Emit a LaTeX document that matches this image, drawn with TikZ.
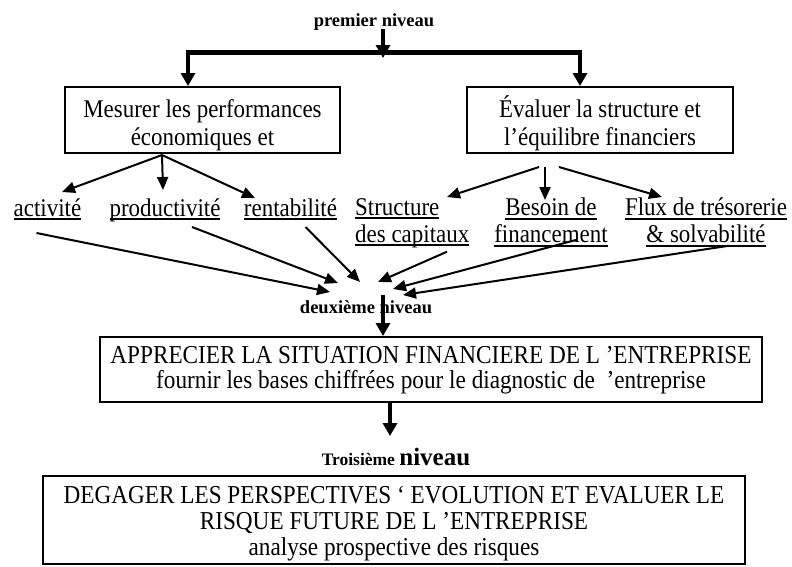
\documentclass[tikz,border=0pt]{standalone}
\usepackage{fontspec}
\setmainfont{Liberation Serif}[FakeStretch=0.9]
\newfontfamily\lblfont{Liberation Serif}
\usetikzlibrary{arrows.meta}
\newcommand\myul[1]{\setbox0\hbox{#1}\rlap{\rule[-3.6pt]{\wd0}{1.3pt}}\box0}
\begin{document}
\begin{tikzpicture}[x=1pt,y=-1pt,
  box/.style={draw, line width=2pt, inner sep=0pt, align=center},
  thinarr/.style={line width=2pt, -{Triangle[length=13pt,width=11pt]}},
  thickarr/.style={line width=4.5pt, -{Triangle[length=13pt,width=14pt]}},
  lbl/.style={font=\lblfont\fontsize{18.5}{20}\selectfont\bfseries, inner sep=0pt, anchor=base},
  sub/.style={font=\fontsize{25.5}{27}\selectfont, inner sep=0pt, anchor=base}]
\useasboundingbox (0,0) rectangle (792,566);
% level 1
\node[lbl] (prem) at (374,26) {premier niveau};
\coordinate (barL) at (188,52.5);
\coordinate (barR) at (580,52.5);
\coordinate (barM) at (383,58);
\draw[line width=5pt] ([xshift=-2pt]barL) -- ([xshift=2pt]barR);
\draw[thickarr] (383,29) -- (barM);
\node[box, minimum width=275pt, minimum height=66pt, text height=50pt, text depth=0pt, font=\fontsize{25.5}{28}\selectfont] (mes) at (202.5,120) {Mesurer les performances\\économiques et};
\node[box, minimum width=266pt, minimum height=66pt, text height=50pt, text depth=0pt, font=\fontsize{25.5}{28}\selectfont] (eva) at (600,120) {Évaluer la structure et\\l’équilibre financiers};
\draw[thickarr] (barL) -- (barL |- mes.north);
\draw[thickarr] (barR) -- (barR |- eva.north);
% sub items
\node[sub] (act) at (47.5,216) {\myul{activité}};
\node[sub] (prod) at (165,216) {\myul{productivité}};
\node[sub] (rent) at (290.5,216) {\myul{rentabilité}};
\node[sub, align=left, anchor=north west] (struc) at (355,198) {\myul{Structure}\\\myul{des capitaux}};
\node[sub, align=center, anchor=north] (bes) at (551,198) {\myul{Besoin de}\\\myul{financement}};
\node[sub, align=center, anchor=north] (flux) at (706,198) {\myul{Flux de trésorerie}\\\myul{\& solvabilité}};
% arrows from level-1 boxes
\coordinate (mS) at (162,155);
\coordinate (eS) at (545,167);
\coordinate (tAct) at (62,192);
\coordinate (tProd) at (163,190);
\coordinate (tRent) at (255,198);
\coordinate (tStr) at (447,197);
\coordinate (tBes) at (545,200);
\coordinate (tFlux) at (662,197);
\draw[thinarr] (mS) -- (tAct);
\draw[thinarr] (mS) -- (tProd);
\draw[thinarr] (mS) -- (tRent);
\draw[thinarr] ([xshift=-6pt]eS) -- (tStr);
\draw[thinarr] (eS) -- (tBes);
\draw[thinarr] ([xshift=14pt]eS) -- (tFlux);
% converging arrows
\coordinate (c1) at (330,292);
\coordinate (c2) at (338,283);
\coordinate (c3) at (360,282);
\coordinate (c4) at (378,282);
\coordinate (c5) at (393,289);
\coordinate (c6) at (403,295);
\draw[thinarr] ([shift={(-11,17)}]act.base) -- (c1);
\draw[thinarr] ([shift={(27,11)}]prod.base) -- (c2);
\draw[thinarr] ([shift={(15,11)}]rent.base) -- (c3);
\draw[thinarr] ([shift={(92,4)}]struc.south west) -- (c4);
\draw[thinarr] ([shift={(26,-7)}]bes.south) -- (c5);
\draw[thinarr] ([shift={(23,-1)}]flux.south) -- (c6);
% level 2
\node[lbl] (deux) at (366,313) {deuxième niveau};
\coordinate (dTop) at (383,295);
\node[box, minimum width=662pt, minimum height=65pt, text height=37pt, text depth=0pt, font=\fontsize{25.8}{25}\selectfont] (app) at (431,369.5) {APPRECIER LA SITUATION FINANCIERE DE L ’ENTREPRISE\\fournir les bases chiffrées pour le diagnostic de \ ’entreprise};
\draw[thickarr] (dTop) -- (dTop |- app.north);
% level 3
\node[font=\lblfont\bfseries, inner sep=0pt, anchor=base] (trois) at (396,465) {\fontsize{17.5}{20}\selectfont Troisième \fontsize{25}{28}\selectfont niveau};
\draw[thickarr] (app.south -| 390,0) -- (390,436);
\node[box, minimum width=702pt, minimum height=88pt, text height=70pt, text depth=0pt, font=\fontsize{25.8}{26}\selectfont] (deg) at (394,520) {DEGAGER LES PERSPECTIVES ‘ EVOLUTION ET EVALUER LE\\RISQUE FUTURE DE L ’ENTREPRISE\\analyse prospective des risques};
\end{tikzpicture}
\end{document}
